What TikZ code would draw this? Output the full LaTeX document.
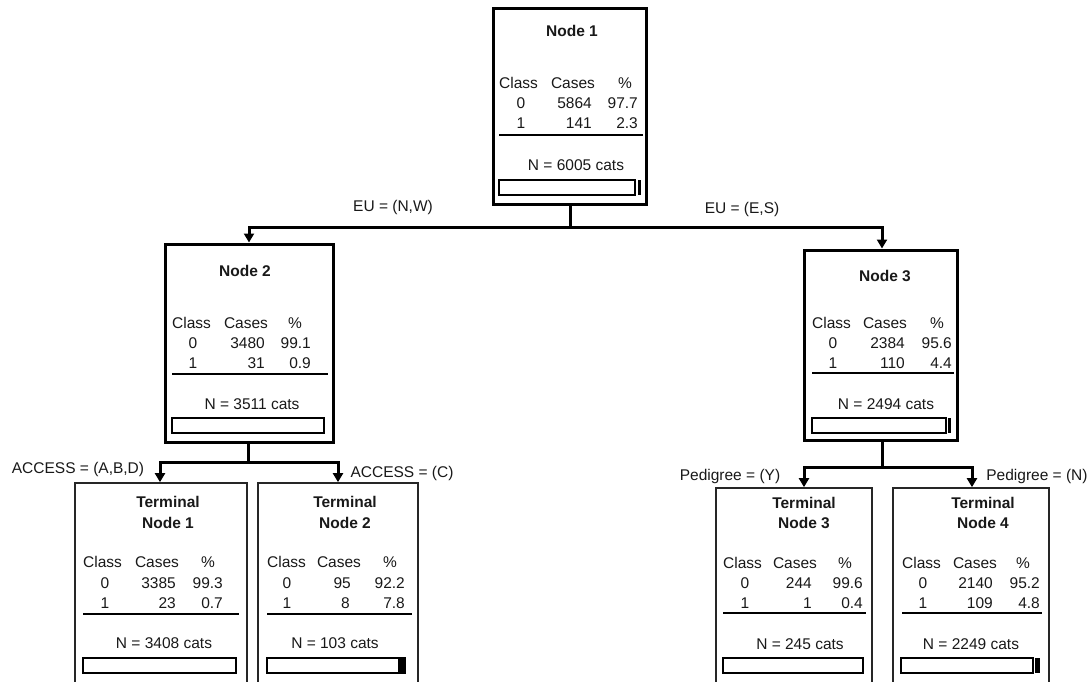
\documentclass[tikz,border=0pt]{standalone}
\usepackage{fontspec}
\setmainfont{Liberation Sans}
\usetikzlibrary{arrows.meta}
\tikzset{
  txt/.style={font=\fontsize{15.5}{18}\selectfont, inner sep=0pt, anchor=base, text=black!90},
  tl/.style={txt, anchor=base west},
  tr/.style={txt, anchor=base east},
  tc/.style={txt, anchor=base},
  ttl/.style={txt, font=\fontsize{15.5}{18}\selectfont\bfseries},
  mainbox/.style={draw, line width=3pt, inner sep=0pt},
  termbox/.style={draw=black!85, line width=1.7pt, inner sep=0pt},
  rule/.style={line width=1.5pt},
  barbox/.style={draw, line width=1.5pt},
  link/.style={line width=3pt},
  conn/.style={line width=3pt, -{Triangle[length=9pt,width=10pt]}},
}
\begin{document}
\begin{tikzpicture}[x=1pt,y=-1pt]
\clip (0,0) rectangle (1092,682);
\fill[white] (0,0) rectangle (1092,682);

% ---------- boxes ----------
\node[mainbox, minimum width=153pt, minimum height=195pt] (n1) at (569.5,106.5) {};
\node[mainbox, minimum width=168pt, minimum height=198pt] (n2) at (249,343) {};
\node[mainbox, minimum width=152.5pt, minimum height=190pt] (n3) at (880.75,345) {};
\node[termbox, minimum width=172pt, minimum height=212pt] (t1) at (161,589) {};
\node[termbox, minimum width=160pt, minimum height=212pt] (t2) at (338,589) {};
\node[termbox, minimum width=156pt, minimum height=207pt] (t3) at (794,591.5) {};
\node[termbox, minimum width=156pt, minimum height=207pt] (t4) at (971,591.5) {};

% ---------- connectors ----------
\coordinate (s1) at (570,227);
\coordinate (s2) at (248,462);
\coordinate (s3) at (882,467);
\draw[link] ([xshift=0.5pt]n1.south) -- (s1);
\draw[conn] (s1) -| (n2.north);
\draw[conn] (s1) -| ([xshift=1.25pt]n3.north);
\draw[link] ([xshift=-1pt]n2.south) -- (s2);
\draw[conn] (s2) -| ([xshift=-1pt]t1.north);
\draw[conn] (s2) -| (t2.north);
\draw[link] ([xshift=1.25pt]n3.south) -- (s3);
\draw[conn] (s3) -| ([xshift=10pt]t3.north);
\draw[conn] (s3) -| ([xshift=1pt]t4.north);

% ---------- split labels ----------
\node[tc] (l1) at (393,211) {EU = (N,W)};
\node[tc] (l2) at (742,213) {EU = (E,S)};
\node[tc] (l3) at (78,473.5) {ACCESS = (A,B,D)};
\node[tc] (l4) at (402,477) {ACCESS = (C)};
\node[tc] (l5) at (730,480) {Pedigree = (Y)};
\node[tc] (l6) at (1037,480) {Pedigree = (N)};

% ---------- Node 1 ----------
\node[ttl] (n1t) at (572,37) {Node 1};
\node[tl] (n1h1) at (499,88.5) {Class};
\node[tc] (n1h2) at (573,88.5) {Cases};
\node[tc] (n1h3) at (625,88.5) {\%};
\node[tc] (n1a0) at (521,109) {0};
\node[tr] (n1b0) at (592,109) {5864};
\node[tr] (n1c0) at (638,109) {97.7};
\node[tc] (n1a1) at (521,129) {1};
\node[tr] (n1b1) at (592,129) {141};
\node[tr] (n1c1) at (638,129) {2.3};
\draw[rule] (499,135) -- (643,135);
\node[tc] (n1n) at (576,171) {N = 6005 cats};
\draw[barbox] (499,180) rectangle (635,195);
\fill (638,180) rectangle (640.5,195);

% ---------- Node 2 ----------
\node[ttl] (n2t) at (245,276.5) {Node 2};
\node[tl] (n2h1) at (172,328.5) {Class};
\node[tc] (n2h2) at (246,328.5) {Cases};
\node[tc] (n2h3) at (295,328.5) {\%};
\node[tc] (n2a0) at (193,348.5) {0};
\node[tr] (n2b0) at (265,348.5) {3480};
\node[tr] (n2c0) at (311,348.5) {99.1};
\node[tc] (n2a1) at (193,368.5) {1};
\node[tr] (n2b1) at (265,368.5) {31};
\node[tr] (n2c1) at (311,368.5) {0.9};
\draw[rule] (172,374) -- (328,374);
\node[tc] (n2n) at (252,409.5) {N = 3511 cats};
\draw[barbox] (172,418) rectangle (324,433);

% ---------- Node 3 ----------
\node[ttl] (n3t) at (885,281.5) {Node 3};
\node[tl] (n3h1) at (812,328.5) {Class};
\node[tc] (n3h2) at (885,328.5) {Cases};
\node[tc] (n3h3) at (937,328.5) {\%};
\node[tc] (n3a0) at (833,348.5) {0};
\node[tr] (n3b0) at (905,348.5) {2384};
\node[tr] (n3c0) at (952,348.5) {95.6};
\node[tc] (n3a1) at (833,368.5) {1};
\node[tr] (n3b1) at (905,368.5) {110};
\node[tr] (n3c1) at (952,368.5) {4.4};
\draw[rule] (812,373) -- (954,373);
\node[tc] (n3n) at (886,409.5) {N = 2494 cats};
\draw[barbox] (812,418) rectangle (946,433);
\fill (948,418) rectangle (951,433);

% ---------- Terminal Node 1 ----------
\node[ttl] (t1t) at (168,507.5) {Terminal};
\node[ttl] (t1u) at (168,528.5) {Node 1};
\node[tl] (t1h1) at (83,567.5) {Class};
\node[tc] (t1h2) at (157,567.5) {Cases};
\node[tc] (t1h3) at (208,567.5) {\%};
\node[tc] (t1a0) at (105,588.5) {0};
\node[tr] (t1b0) at (176,588.5) {3385};
\node[tr] (t1c0) at (223,588.5) {99.3};
\node[tc] (t1a1) at (105,608.5) {1};
\node[tr] (t1b1) at (176,608.5) {23};
\node[tr] (t1c1) at (223,608.5) {0.7};
\draw[rule] (83,614) -- (239,614);
\node[tc] (t1n) at (164,648.5) {N = 3408 cats};
\draw[barbox] (83,658) rectangle (236,673);

% ---------- Terminal Node 2 ----------
\node[ttl] (t2t) at (345,507.5) {Terminal};
\node[ttl] (t2u) at (345,528.5) {Node 2};
\node[tl] (t2h1) at (267,567.5) {Class};
\node[tc] (t2h2) at (339,567.5) {Cases};
\node[tc] (t2h3) at (390,567.5) {\%};
\node[tc] (t2a0) at (287,588.5) {0};
\node[tr] (t2b0) at (351,588.5) {95};
\node[tr] (t2c0) at (405,588.5) {92.2};
\node[tc] (t2a1) at (287,608.5) {1};
\node[tr] (t2b1) at (350,608.5) {8};
\node[tr] (t2c1) at (405,608.5) {7.8};
\draw[rule] (267,614) -- (412,614);
\node[tc] (t2n) at (335,648.5) {N = 103 cats};
\fill (398,658) rectangle (405,673);
\draw[barbox] (267,658) rectangle (405,673);

% ---------- Terminal Node 3 ----------
\node[ttl] (t3t) at (804,508) {Terminal};
\node[ttl] (t3u) at (804,528.5) {Node 3};
\node[tl] (t3h1) at (723,568) {Class};
\node[tc] (t3h2) at (795,568) {Cases};
\node[tc] (t3h3) at (845,568) {\%};
\node[tc] (t3a0) at (745,588.5) {0};
\node[tr] (t3b0) at (812,588.5) {244};
\node[tr] (t3c0) at (863,588.5) {99.6};
\node[tc] (t3a1) at (745,608.5) {1};
\node[tr] (t3b1) at (812,608.5) {1};
\node[tr] (t3c1) at (863,608.5) {0.4};
\draw[rule] (723,613) -- (866,613);
\node[tc] (t3n) at (800,649) {N = 245 cats};
\draw[barbox] (723,658) rectangle (863,673);

% ---------- Terminal Node 4 ----------
\node[ttl] (t4t) at (983,508) {Terminal};
\node[ttl] (t4u) at (983,528.5) {Node 4};
\node[tl] (t4h1) at (902,568) {Class};
\node[tc] (t4h2) at (975,568) {Cases};
\node[tc] (t4h3) at (1023,568) {\%};
\node[tc] (t4a0) at (923,588.5) {0};
\node[tr] (t4b0) at (993,588.5) {2140};
\node[tr] (t4c0) at (1040,588.5) {95.2};
\node[tc] (t4a1) at (923,608.5) {1};
\node[tr] (t4b1) at (993,608.5) {109};
\node[tr] (t4c1) at (1040,608.5) {4.8};
\draw[rule] (902,613) -- (1042,613);
\node[tc] (t4n) at (971,649) {N = 2249 cats};
\draw[barbox] (901,658) rectangle (1033,673);
\fill (1035,658) rectangle (1039.5,673);
\end{tikzpicture}
\end{document}
